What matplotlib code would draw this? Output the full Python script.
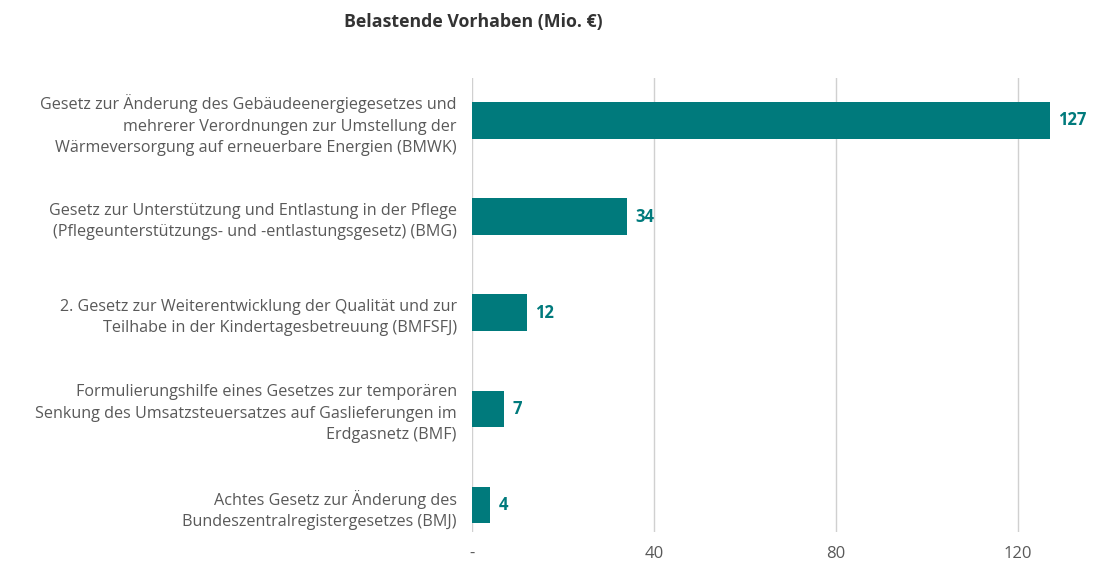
import matplotlib
matplotlib.use("Agg")
import matplotlib.pyplot as plt

categories = [
    "Gesetz zur Änderung des Gebäudeenergiegesetzes und\nmehrerer Verordnungen zur Umstellung der\nWärmeversorgung auf erneuerbare Energien (BMWK)",
    "Gesetz zur Unterstützung und Entlastung in der Pflege\n(Pflegeunterstützungs- und -entlastungsgesetz) (BMG)",
    "2. Gesetz zur Weiterentwicklung der Qualität und zur\nTeilhabe in der Kindertagesbetreuung (BMFSFJ)",
    "Formulierungshilfe eines Gesetzes zur temporären\nSenkung des Umsatzsteuersatzes auf Gaslieferungen im\nErdgasnetz (BMF)",
    "Achtes Gesetz zur Änderung des\nBundeszentralregistergesetzes (BMJ)",
]
values = [127, 34, 12, 7, 4]
xticks = [0, 40, 80, 120]
xtick_labels = ["-", "40", "80", "120"]
title = "Belastende Vorhaben (Mio. €)"

plt.rcParams['font.family'] = ['Open Sans', 'DejaVu Sans']

BAR = "#007A7C"
GREY = "#595959"

fig = plt.figure(figsize=(10.93, 5.61), dpi=100)
ax = fig.add_axes([472/1093, 1-532/561, (1080-472)/1093, (532-78)/561])

y = list(range(len(categories)))
bars = ax.barh(y, values, height=0.38, color=BAR, zorder=3)
ax.bar_label(bars, labels=[str(v) for v in values], padding=6, color=BAR,
             fontweight='bold', fontsize=12)

ax.set_ylim(4.28, -0.44)
ax.set_xlim(0, (1080-472)/4.55)
ax.set_xticks(xticks)
ax.set_xticklabels(xtick_labels)
ax.set_yticks(y)
ax.set_yticklabels(categories, fontsize=11.6, color=GREY, ha='right',
                   multialignment='right', linespacing=1.45)
ax.tick_params(axis='y', length=0, pad=11)
ax.tick_params(axis='x', length=0, pad=10, labelsize=12, labelcolor=GREY)
ax.grid(axis='x', color='#d0d0d0', linewidth=1, zorder=0)
ax.grid(axis='y', visible=False)
for s in ax.spines.values():
    s.set_visible(False)

fig.text(473/1093, 1-22/561, title, ha='center', va='center', fontsize=12.8,
         fontweight='bold', color='#333333')

fig.savefig("out.png", dpi=100)
